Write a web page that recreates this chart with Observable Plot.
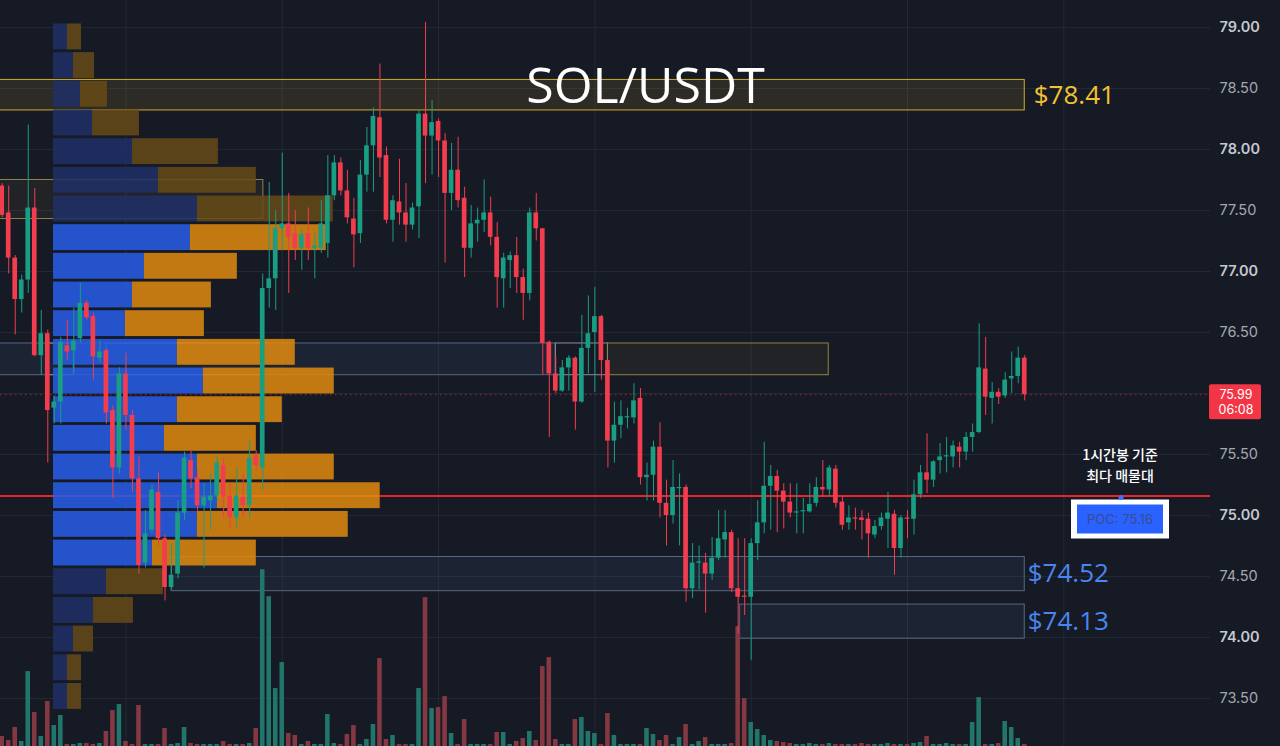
<!DOCTYPE html>
<html><head><meta charset="utf-8">
<script src="https://cdn.jsdelivr.net/npm/d3@7"></script>
<script src="https://cdn.jsdelivr.net/npm/@observablehq/plot@0.6"></script>
<style>
html,body{margin:0;padding:0;background:#161a25;}
#chart{width:1280px;height:746px;overflow:hidden;}
</style></head><body><div id="chart"></div>
<script>
// ---------------- DATA ----------------
const title = "SOL/USDT";
// hourly candles (oldest -> newest)
const opens = [77.70,77.48,77.11,76.77,76.93,77.52,76.31,76.49,75.88,75.93,
76.39,76.35,76.45,76.74,76.63,76.29,76.35,75.86,75.39,76.16,
75.82,75.30,74.61,74.88,75.19,74.81,74.41,74.52,75.02,75.45,
75.31,75.08,75.12,75.16,75.41,75.16,74.98,75.15,75.08,75.49,
75.39,76.86,76.94,77.35,77.39,77.31,77.19,77.31,77.19,77.19,
77.23,77.62,77.89,77.66,77.43,77.31,77.79,78.03,78.26,77.95,
77.42,77.57,77.48,77.38,77.53,78.29,78.11,78.23,78.07,77.64,
77.83,77.60,77.19,77.39,77.42,77.48,77.28,76.94,77.09,77.13,
76.95,76.82,77.48,77.35,76.42,76.16,76.02,76.21,76.29,75.93,
76.37,76.50,76.63,76.27,75.61,75.74,75.80,75.80,75.96,75.31,
75.33,75.56,75.10,75.00,75.22,75.23,74.40,74.61,74.61,74.52,
74.65,74.80,74.86,74.40,74.34,74.33,74.77,74.94,75.24,75.32,
75.20,75.11,75.02,75.03,75.03,75.10,75.23,75.21,75.38,75.11,
74.94,74.98,74.98,74.97,74.84,74.91,74.97,75.01,74.73,74.98,
74.97,75.17,75.35,75.29,75.45,75.48,75.48,75.56,75.52,75.64,
75.68,76.20,75.96,76.01,75.98,76.12,76.14,76.29];
const highs = [77.72,77.70,77.13,76.97,78.20,77.68,76.68,76.52,75.98,76.46,
76.60,76.70,76.90,76.76,76.66,76.43,76.37,75.90,76.21,76.33,
75.86,75.48,75.04,75.25,75.35,74.84,74.77,75.12,75.52,75.53,
75.37,75.26,75.34,75.49,75.47,75.26,75.39,75.34,75.61,75.53,
76.98,77.73,77.50,77.97,77.64,77.50,77.34,77.52,77.31,77.58,
77.95,77.95,77.93,77.83,77.60,77.91,78.18,78.34,78.70,78.02,
77.62,77.92,77.72,77.56,78.32,79.04,78.40,78.25,78.13,78.05,
78.10,77.69,77.54,77.52,77.75,77.61,77.40,77.15,77.16,77.28,
77.02,77.52,77.64,77.35,76.43,76.30,76.27,76.31,76.30,76.64,
76.80,76.87,76.64,76.27,75.93,75.94,75.88,76.08,76.04,75.43,
75.61,75.76,75.29,75.45,75.34,75.25,74.77,74.75,74.69,74.82,
75.04,75.04,74.88,74.81,74.81,74.81,75.12,75.60,75.41,75.37,
75.26,75.26,75.26,75.14,75.26,75.31,75.45,75.41,75.41,75.15,
75.08,75.06,75.04,75.02,74.96,75.02,75.19,75.04,75.00,75.04,
75.29,75.41,75.67,75.45,75.59,75.64,75.61,75.60,75.68,75.75,
76.57,76.46,76.09,76.04,76.17,76.34,76.38,76.31];
const lows = [77.44,76.98,76.48,76.66,76.82,76.30,76.15,75.43,75.75,75.75,
76.27,76.16,76.41,76.60,76.11,76.25,75.75,75.14,75.34,75.70,
75.19,74.52,74.57,74.85,74.75,74.30,74.39,74.48,74.96,75.22,
75.02,74.57,74.88,75.12,74.98,74.89,74.90,74.98,74.98,75.37,
75.21,76.70,76.68,77.17,76.82,77.09,77.01,77.09,76.94,77.15,
77.11,77.58,77.62,77.39,77.03,77.23,77.65,77.65,77.77,77.39,
77.24,77.38,77.24,77.34,77.27,77.72,77.79,77.77,77.07,77.50,
77.52,76.95,77.11,77.24,77.32,77.21,76.70,76.70,76.86,76.82,
76.60,76.76,77.25,76.15,75.64,76.00,76.01,76.02,75.70,75.92,
76.16,76.01,76.11,75.39,75.43,75.63,75.71,75.75,75.25,75.12,
75.12,74.98,74.75,74.93,74.75,74.29,74.32,74.39,74.20,74.47,
74.63,74.65,74.37,74.03,74.18,73.81,74.63,74.85,74.88,74.86,
74.89,74.98,74.85,74.85,75.02,75.07,75.15,75.15,75.06,74.88,
74.88,74.88,74.80,74.65,74.81,74.88,74.73,74.51,74.65,74.81,
74.84,75.14,75.18,75.23,75.34,75.35,75.39,75.39,75.45,75.52,
75.67,75.82,75.75,75.91,75.96,76.00,76.08,75.94];
const closes = [77.46,77.11,76.77,76.93,77.52,76.31,76.49,75.86,75.93,76.42,
76.34,76.43,76.74,76.62,76.30,76.34,75.84,75.39,76.16,75.82,
75.30,74.59,74.85,75.21,74.81,74.41,74.51,75.02,75.47,75.30,
75.08,75.15,75.16,75.43,75.15,74.98,75.16,75.08,75.47,75.41,
76.86,76.94,77.35,77.39,77.28,77.19,77.30,77.19,77.21,77.39,
77.62,77.89,77.66,77.44,77.30,77.79,78.03,78.27,77.93,77.42,
77.58,77.48,77.38,77.52,78.29,78.11,78.22,78.07,77.64,77.83,
77.58,77.19,77.39,77.42,77.48,77.28,76.95,77.11,77.13,76.95,
76.82,77.48,77.35,76.41,76.16,76.02,76.21,76.29,75.93,76.37,
76.49,76.63,76.27,75.61,75.74,75.81,75.81,75.94,75.31,75.33,
75.56,75.10,75.00,75.23,75.23,74.40,74.61,74.62,74.52,74.65,
74.81,74.86,74.40,74.33,74.33,74.77,74.94,75.24,75.32,75.20,
75.11,75.02,75.03,75.04,75.09,75.23,75.21,75.39,75.10,74.92,
74.98,74.97,74.96,74.85,74.91,74.98,75.02,74.73,74.98,74.97,
75.17,75.35,75.29,75.44,75.48,75.49,75.57,75.52,75.64,75.68,
76.21,75.97,76.01,75.97,76.11,76.14,76.29,75.99];
// volume per candle (K SOL)
const volumes = [10,6,19,5,75,34,10,45,21,31,
2,2,3,3,2,3,15,36,42,5,
2,41,2,2,2,18,2,3,19,3,
2,2,2,2,5,2,2,2,3,18,
177,150,58,84,13,11,2,5,2,2,
32,3,2,12,21,2,7,22,88,7,
11,2,2,2,58,149,38,39,50,13,
2,27,2,2,2,2,14,14,2,5,
8,15,6,80,89,7,2,2,27,29,
15,13,2,33,11,2,2,2,2,18,
12,6,11,2,9,22,2,5,9,2,
2,2,3,120,48,24,17,11,6,5,
4,3,2,2,3,2,2,3,2,2,
2,2,3,2,2,2,3,2,2,2,
3,4,10,2,2,3,2,2,2,24,
49,2,2,3,25,19,8,2];

const priceTicks = [73.5,74,74.5,75,75.5,76,76.5,77,77.5,78,78.5,79];
const dayStarts = [19,43,67,91,115,139,163];   // candle index of each new day

// visible-range volume profile (rows from the top price down)
const profileTop = 79.04;
const profileStep = 0.235;
const profileBuy  = [14,20,27,39,79,105,144,137,91,79,72,124,150,124,111,144,164,144,99,53,40,20,14,14];
const profileSell = [14,21,27,47,86,98,136,136,93,79,79,118,131,105,92,137,163,151,104,57,40,20,14,14];
const valueAreaHigh = 77.40;
const valueAreaLow = 74.57;
const pocPrice = 75.16;
const pocText = ["1시간봉 기준", "최다 매물대"];

const lastPrice = 75.99;
const countdown = "06:08";

// drawn zones
const zoneLow  = [78.32, 77.43, 76.15, 76.15, 76.15, 74.38, 73.99, 76.15, 76.15];
const zoneHigh = [78.57, 77.75, 76.41, 76.41, 76.41, 74.66, 74.27, 76.41, 76.41];
const zoneFrom = [-1, -1, -1, 85, 93, 26, 113.3, 7, 16];
const zoneTo   = [157, 40.1, 85, 93, 126.9, 157, 157, 11, 40.1];
const zoneType = ["resistance","minor","support","marker","minor","support","support","marker","marker"];
const zoneLabel = ["$78.41","","","","","$74.52","$74.13","",""];

// ---------------- BUILD ----------------
const xDomain = [-0.26, 185.52];
const yDomain = [73.107, 79.221];
const GREEN = "#1a9e83", RED = "#f23d4f";

const candles = opens.map((o, i) => {
  const c = closes[i];
  let b1 = Math.min(o, c), b2 = Math.max(o, c);
  if (b2 - b1 < 0.009) { const m = (b1 + b2) / 2; b1 = m - 0.005; b2 = m + 0.005; }
  return {i, o, h: highs[i], l: lows[i], c, v: volumes[i], up: c >= o, b1, b2};
});

const maxVol = d3.max(volumes);
const volK = 0.237 * (yDomain[1] - yDomain[0]) / maxVol;

const profileStart = 7.88;
const maxProfile = d3.max(profileBuy.map((b, k) => b + profileSell[k]));
const profileK = 0.27 * (xDomain[1] - xDomain[0]) / maxProfile;
const rows = profileBuy.map((b, k) => {
  const hi = profileTop - k * profileStep, lo = hi - profileStep;
  const mid = (hi + lo) / 2;
  const inVA = mid <= valueAreaHigh && mid >= valueAreaLow;
  return {k, hi, lo, inVA,
    bx1: profileStart, bx2: profileStart + b * profileK,
    sx1: profileStart + b * profileK, sx2: profileStart + (b + profileSell[k]) * profileK};
});

const zones = zoneLow.map((lo, j) => ({lo, hi: zoneHigh[j], from: zoneFrom[j], to: zoneTo[j], type: zoneType[j], label: zoneLabel[j]}));
const zoneFill = {resistance: "#c9a22a", minor: "#b59c3a", support: "#4d6c98", marker: "none"};
const zoneFillOp = {resistance: 0.13, minor: 0.08, support: 0.12, marker: 0};
const zoneStroke = {resistance: "#d0ab2e", minor: "#8f8444", support: "#56677f", marker: "#8a909c"};

// axis labels hidden behind the last-price tag (as the trading terminal does)
const shownTicks = priceTicks.filter(d => Math.abs(d - lastPrice) > 0.12);

function overlay(index, scales, values, dimensions) {
  const y = scales.y;
  const right = dimensions.width - dimensions.marginRight;
  const g = d3.create("svg:g");
  const ly = y(lastPrice);
  g.append("rect").attr("x", right - 1).attr("y", ly - 10).attr("width", 52).attr("height", 35).attr("rx", 2).attr("fill", "#f23645");
  g.append("text").attr("x", right + 26).attr("y", ly + 4.5).attr("text-anchor", "middle").attr("fill", "#fff")
    .attr("font-family", "Inter, sans-serif").attr("font-size", 12.5).text(lastPrice.toFixed(2));
  g.append("text").attr("x", right + 26).attr("y", ly + 20).attr("text-anchor", "middle").attr("fill", "#fff")
    .attr("font-family", "Inter, sans-serif").attr("font-size", 12.5).text(countdown);
  const py = y(pocPrice);
  const cx = right - 90;
  g.append("text").attr("x", cx).attr("y", py - 35.5).attr("text-anchor", "middle").attr("fill", "#fff")
    .attr("font-family", "'Noto Sans CJK KR', sans-serif").attr("font-size", 14).attr("font-weight", 500).text(pocText[0]);
  g.append("text").attr("x", cx).attr("y", py - 14.5).attr("text-anchor", "middle").attr("fill", "#fff")
    .attr("font-family", "'Noto Sans CJK KR', sans-serif").attr("font-size", 14).attr("font-weight", 500).text(pocText[1]);
  g.append("rect").attr("x", cx - 49).attr("y", py + 4).attr("width", 98).attr("height", 39).attr("fill", "#ffffff");
  g.append("rect").attr("x", cx - 43).attr("y", py + 9).attr("width", 86).attr("height", 29).attr("fill", "#2962ff");
  g.append("text").attr("x", cx).attr("y", py + 28).attr("text-anchor", "middle").attr("fill", "#3a4c8c")
    .attr("font-family", "Inter, sans-serif").attr("font-size", 13).text("POC: " + pocPrice.toFixed(2));
  g.append("circle").attr("cx", cx + 1).attr("cy", py + 2).attr("r", 2.5).attr("fill", "#3f6fff");
  return g.node();
}

const chart = Plot.plot({
  width: 1280, height: 746,
  marginLeft: 0, marginRight: 70, marginTop: 0, marginBottom: 0,
  style: {background: "#161a25", fontFamily: "'Open Sans', sans-serif", overflow: "visible"},
  x: {domain: xDomain, axis: null},
  y: {domain: yDomain, axis: null},
  color: {type: "identity"},
  marks: [
    Plot.ruleY(priceTicks, {stroke: "#242935", strokeWidth: 1}),
    Plot.ruleX(dayStarts, {stroke: "#242935", strokeWidth: 1}),
    // zones
    Plot.rect(zones, {x1: "from", x2: "to", y1: "lo", y2: "hi",
      fill: d => zoneFill[d.type], fillOpacity: d => zoneFillOp[d.type], stroke: d => zoneStroke[d.type], strokeWidth: 1, clip: true}),
    Plot.ruleX([65], {y1: zoneLow[0], y2: zoneHigh[0], stroke: zoneStroke.resistance}),
    // price lines
    Plot.ruleY([lastPrice], {stroke: "#f23645", strokeOpacity: 0.6, strokeDasharray: "1.5,3.5"}),
    Plot.ruleY([pocPrice], {stroke: "#e8242d", strokeWidth: 2}),
    // volume profile
    Plot.rect(rows, {x1: "bx1", x2: "bx2", y1: "lo", y2: "hi", insetTop: 1.4, insetBottom: 1.4,
      fill: d => d.inVA ? "#265de6" : "#1f3066", fillOpacity: 0.86}),
    Plot.rect(rows, {x1: "sx1", x2: "sx2", y1: "lo", y2: "hi", insetTop: 1.4, insetBottom: 1.4,
      fill: d => d.inVA ? "#e0890f" : "#674b17", fillOpacity: 0.86}),
    // volume
    Plot.rect(candles, {x1: d => d.i - 0.35, x2: d => d.i + 0.35, y1: d => yDomain[0], y2: d => yDomain[0] + d.v * volK,
      fill: d => d.up ? "#22756a" : "#843842"}),
    // candles
    Plot.ruleX(candles, {x: "i", y1: "l", y2: "h", stroke: d => d.up ? GREEN : RED, strokeWidth: 1}),
    Plot.rect(candles, {x1: d => d.i - 0.36, x2: d => d.i + 0.36, y1: "b1", y2: "b2", fill: d => d.up ? GREEN : RED}),
    // right price axis
    Plot.text(shownTicks.filter(d => Number.isInteger(d)), {y: d => d, text: d => d.toFixed(2), frameAnchor: "right", dx: 9,
      textAnchor: "start", fill: "#c5c8d0", fontSize: 14.5, fontWeight: 600, fontFamily: "Inter, sans-serif"}),
    Plot.text(shownTicks.filter(d => !Number.isInteger(d)), {y: d => d, text: d => d.toFixed(2), frameAnchor: "right", dx: 9,
      textAnchor: "start", fill: "#a4a7b0", fontSize: 14.5, fontWeight: 400, fontFamily: "Inter, sans-serif"}),
    // zone labels
    Plot.text(zones.filter(d => d.type === "resistance" && d.label), {x: "to", y: d => (d.lo + d.hi) / 2, text: "label", dx: 9,
      textAnchor: "start", fill: "#f2c230", fontSize: 26, fontWeight: 500}),
    Plot.text(zones.filter(d => d.type === "support" && d.label), {x: "to", y: d => (d.lo + d.hi) / 2, text: "label", dx: 3,
      textAnchor: "start", fill: "#4a86f0", fontSize: 26, fontWeight: 500}),
    // title
    Plot.text([title], {frameAnchor: "top", dx: 40, dy: 67, text: d => d, fill: "#ffffff", fontSize: 50, fontWeight: 500}),
    overlay
  ]
});
document.getElementById("chart").appendChild(chart);
</script>
</body></html>
